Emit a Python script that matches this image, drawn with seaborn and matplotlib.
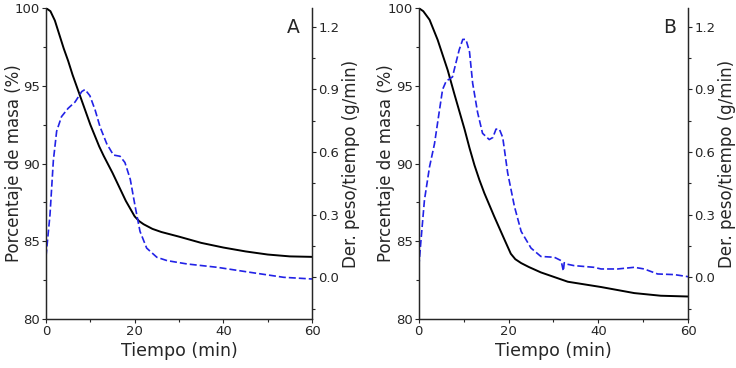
import numpy as np
import pandas as pd
import seaborn as sns
from matplotlib import pyplot as plt
from matplotlib.ticker import MultipleLocator

###data
# panel A - mass (%)
tA_mass = [0, 1, 2, 3, 4, 5, 6, 7, 8, 9, 10, 11, 12, 13, 14, 15, 16, 17, 18, 19, 20,
           21, 22, 24, 26, 30, 35, 40, 45, 50, 55, 60]
mA = [100, 99.8, 99.2, 98.3, 97.4, 96.6, 95.7, 94.9, 94.1, 93.3, 92.5, 91.8, 91.1, 90.5,
      89.95, 89.4, 88.8, 88.2, 87.6, 87.1, 86.6, 86.3, 86.1, 85.8, 85.6, 85.3, 84.9, 84.6,
      84.35, 84.15, 84.03, 84.0]
# panel A - derivative (g/min)
tA_der = [0, 0.9, 1.66, 2.4, 3.5, 5.0, 6.55, 8.06, 8.8, 9.9, 11.1, 12.2, 13.7, 15.2, 16.7,
          17.8, 19.0, 20.1, 21.2, 22.7, 25, 27.3, 31.8, 38.6, 46, 53.6, 60]
dA = [0.10, 0.30, 0.56, 0.70, 0.77, 0.81, 0.84, 0.89, 0.90, 0.87, 0.80, 0.72, 0.64, 0.586,
      0.58, 0.55, 0.47, 0.34, 0.22, 0.14, 0.096, 0.08, 0.064, 0.048, 0.024, 0.0, -0.008]

# panel B - mass (%)
tB_mass = [0, 1, 2.4, 4.2, 6.45, 7.9, 10.2, 11.3, 12.4, 13.5, 14.6, 16.8, 19.1, 20.5, 21.5,
           22.8, 24.5, 27.2, 33.2, 40.6, 48, 53.9, 60]
mB = [100, 99.8, 99.25, 97.96, 96.0, 94.5, 92.2, 91.0, 89.9, 88.95, 88.1, 86.6, 85.1, 84.2,
      83.85, 83.6, 83.35, 83.0, 82.4, 82.06, 81.67, 81.5, 81.45]
# panel B - derivative (g/min)
tB_der = [0, 0.5, 1.26, 2.4, 3.5, 4.6, 5.3, 6.1, 6.8, 7.5, 8.3, 9.0, 9.8, 10.5, 11.3, 12.0,
          13.1, 14.2, 15.7, 16.5, 17.2, 17.95, 18.7, 19.8, 21.3, 22.8, 25, 27.2, 30.2, 31.7,
          32.2, 32.4, 32.8, 34.6, 39, 40.6, 44.3, 48, 50.2, 53.2, 56.9, 60]
dB = [0.05, 0.18, 0.37, 0.53, 0.64, 0.80, 0.90, 0.94, 0.95, 0.96, 1.03, 1.09, 1.14, 1.14,
      1.08, 0.93, 0.79, 0.69, 0.66, 0.67, 0.71, 0.71, 0.67, 0.50, 0.34, 0.22, 0.14, 0.10,
      0.096, 0.08, 0.03, 0.07, 0.064, 0.056, 0.048, 0.04, 0.04, 0.048, 0.04, 0.016, 0.013,
      0.003]

panels = [("A", tA_mass, mA, tA_der, dA), ("B", tB_mass, mB, tB_der, dB)]

sns.set_style("ticks")
plt.rcParams['font.family'] = ['DejaVu Sans']

fig = plt.figure(figsize=(7.36, 3.68), dpi=100)
boxes = [[0.0625, 0.133, 0.3615, 0.845], [0.569, 0.133, 0.366, 0.845]]

for box, (letter, tm, mm, td, dd) in zip(boxes, panels):
    ax = fig.add_axes(box)
    sns.lineplot(x=tm, y=mm, ax=ax, color="black", linewidth=1.4, sort=False)
    ax.set_xlim(0, 60)
    ax.set_ylim(80, 100)
    ax.xaxis.set_major_locator(MultipleLocator(20))
    ax.xaxis.set_minor_locator(MultipleLocator(10))
    ax.yaxis.set_major_locator(MultipleLocator(5))
    ax.yaxis.set_minor_locator(MultipleLocator(2.5))
    ax.set_xlabel("Tiempo (min)", fontsize=12.5, labelpad=3)
    ax.set_ylabel("Porcentaje de masa (%)", fontsize=12)
    ax.yaxis.set_label_coords(-0.088, 0.5)
    ax.tick_params(labelsize=9.5, length=3, width=0.8, pad=1.5)
    ax.tick_params(which="minor", length=2, width=0.8)

    ax2 = ax.twinx()
    sns.lineplot(x=td, y=dd, ax=ax2, color="#2222e6", linewidth=1.2,
                 linestyle=(0, (4.2, 1.8)), sort=False)
    ax2.set_ylim(-0.2, 1.29)
    ax2.yaxis.set_minor_locator(MultipleLocator(0.15))
    ax2.set_yticks([0.0, 0.3, 0.6, 0.9, 1.2])
    ax2.set_yticklabels(["0.0", "0.3", "0.6", "0.9", "1.2"])
    ax2.set_ylabel("Der. peso/tiempo (g/min)", fontsize=12, labelpad=1.5)
    ax2.tick_params(labelsize=9.5, length=3, width=0.8, pad=1.5)
    ax2.tick_params(which="minor", length=2, width=0.8)
    for sp in list(ax.spines.values()) + list(ax2.spines.values()):
        sp.set_linewidth(0.9)
    ax2.spines["top"].set_visible(False)
    ax.spines["top"].set_visible(False)

    ax.text(0.93, 0.936, letter, transform=ax.transAxes, fontsize=13.5,
            ha="center", va="center")

fig.savefig("out.png", dpi=100)
